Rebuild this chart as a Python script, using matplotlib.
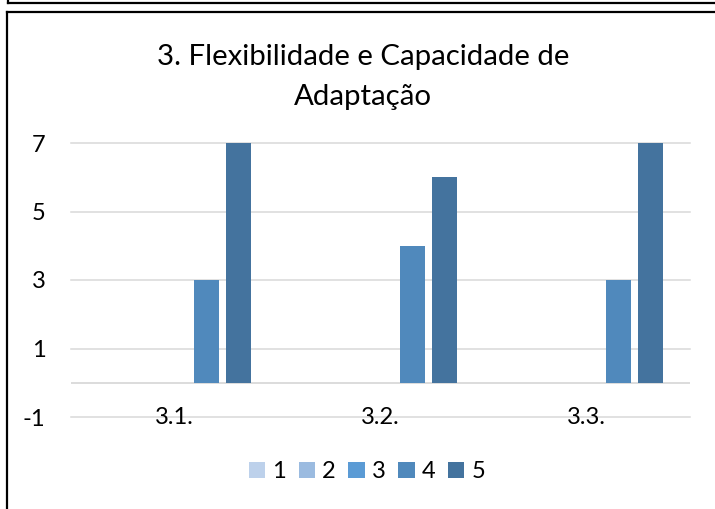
import matplotlib
matplotlib.use("Agg")
import matplotlib.pyplot as plt
from matplotlib.lines import Line2D
import numpy as np

plt.rcParams["font.family"] = ["Lato", "DejaVu Sans"]

categories = ["3.1.", "3.2.", "3.3."]
series_names = ["1", "2", "3", "4", "5"]
s1 = [0, 0, 0]
s2 = [0, 0, 0]
s3 = [0, 0, 0]
s4 = [3, 4, 3]
s5 = [7, 6, 7]
yticks = [-1, 1, 3, 5, 7]

series = [s1, s2, s3, s4, s5]
colors = ["#BDD1EB", "#9BBBE0", "#5B9BD5", "#5089BC", "#44739E"]

W, H = 715, 509
fig = plt.figure(figsize=(W / 100, H / 100), dpi=100)
ax = fig.add_axes([71 / W, (H - 417) / H, (690 - 71) / W, (417 - 143) / H])

x = np.arange(len(categories))
step = 0.155
width = 0.121
handles = []
for i, (vals, c, name) in enumerate(zip(series, colors, series_names)):
    b = ax.bar(x + (i - 2) * step, vals, width, color=c, label=name, zorder=3)
    handles.append(b)

ax.set_xlim(-0.5, len(categories) - 0.5)
ax.set_ylim(-1, 7)
ax.set_yticks(yticks)
ax.set_yticklabels([str(t) for t in yticks])
for t in yticks:
    ax.axhline(t, color="#D9D9D9", lw=1.1, zorder=1, clip_on=False)
ax.axhline(0, color="#D9D9D9", lw=1.3, zorder=2)

ax.set_xticks(x)
ax.set_xticklabels(categories)
for lab in ax.get_xticklabels():
    lab.set_va("center")
ax.tick_params(axis="x", length=0, pad=0, labelsize=17)
ax.tick_params(axis="y", length=0, pad=18.5, labelsize=17)
for s in ax.spines.values():
    s.set_visible(False)

fig.text(0.508, 1 - 57 / H, "3. Flexibilidade e Capacidade de", ha="center", va="center", fontsize=21.2)
fig.text(0.508, 1 - 97 / H, "Adaptação", ha="center", va="center", fontsize=21.2)

fig.legend(handles=handles, labels=series_names, loc="center", ncol=5,
           bbox_to_anchor=(367 / W, 1 - 472 / H), frameon=False, fontsize=17,
           handlelength=0.68, handleheight=0.68, handletextpad=0.3, columnspacing=0.55)

# border lines of the surrounding boxes
fig.add_artist(Line2D([8 / W, 1], [1 - 3 / H, 1 - 3 / H], color="black", lw=1.6))
fig.add_artist(Line2D([8 / W, 8 / W], [1, 1 - 3 / H], color="black", lw=1.6))
fig.add_artist(Line2D([6.5 / W, 1], [1 - 12 / H, 1 - 12 / H], color="black", lw=1.6))
fig.add_artist(Line2D([6.5 / W, 6.5 / W], [0, 1 - 12 / H], color="black", lw=1.6))

plt.savefig("out.png", dpi=100)
